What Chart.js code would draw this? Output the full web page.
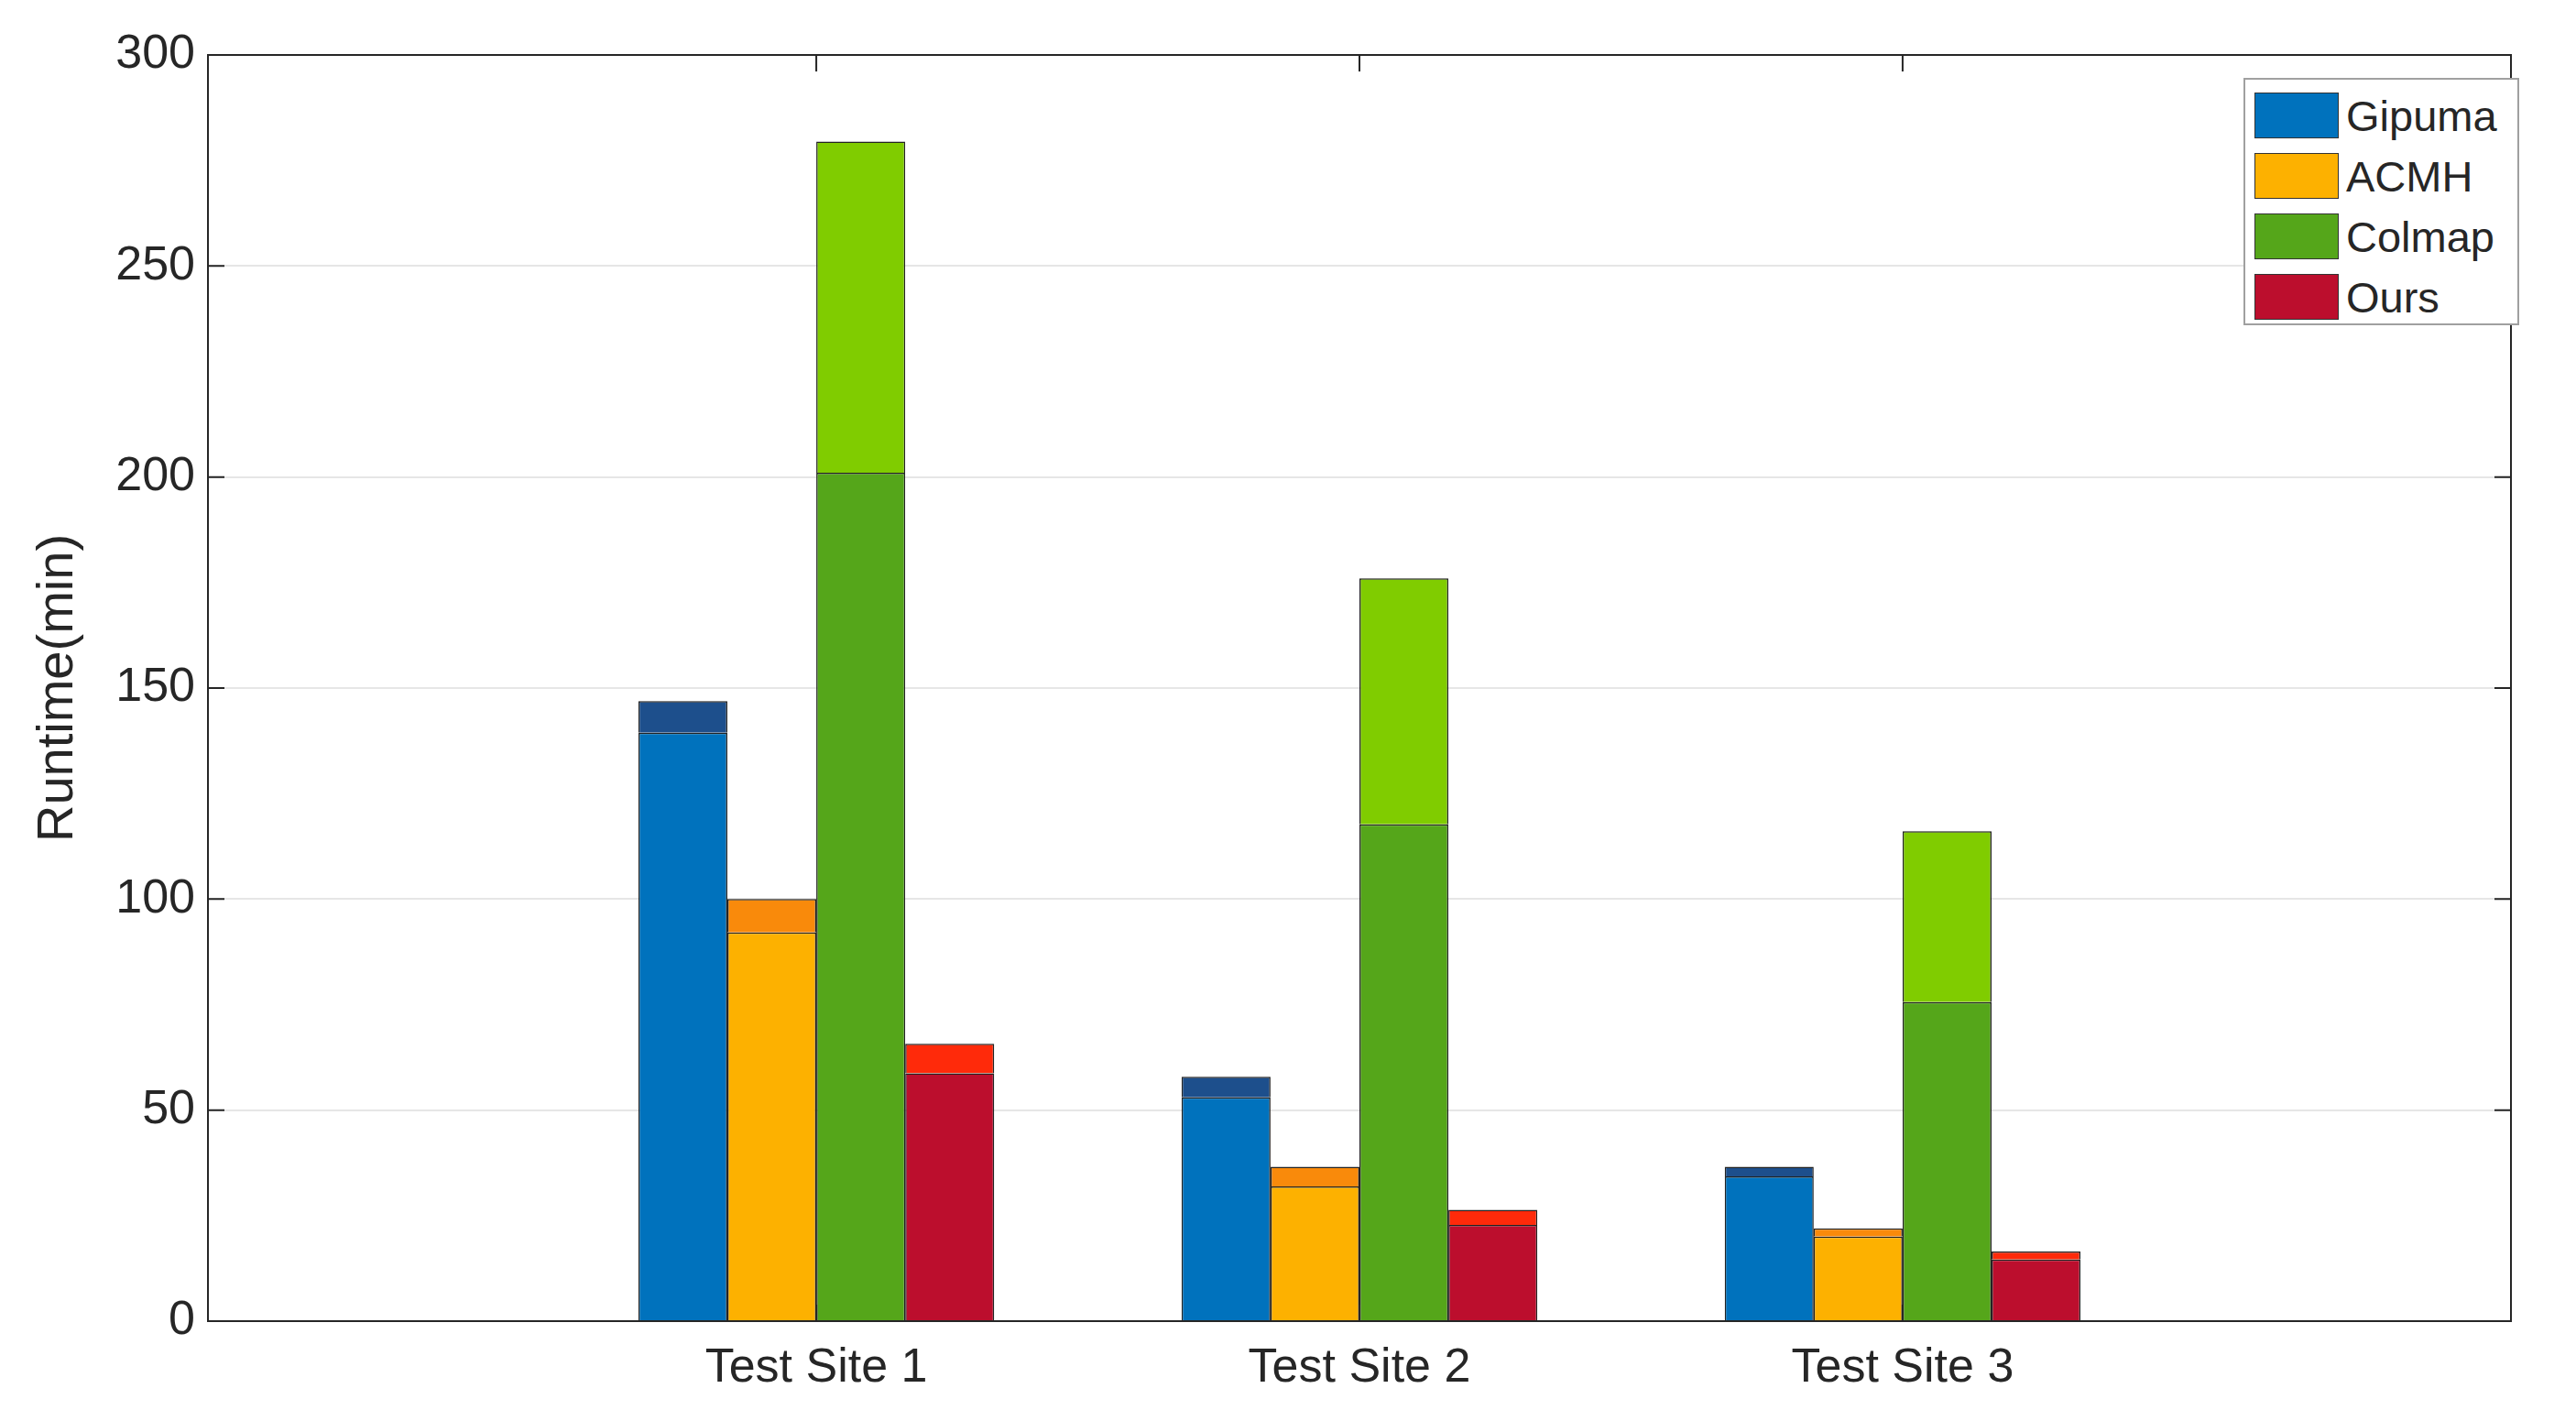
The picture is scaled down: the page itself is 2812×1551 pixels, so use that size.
<!DOCTYPE html>
<html><head><meta charset="utf-8">
<script src="https://cdn.jsdelivr.net/npm/chart.js@4"></script>
<style>
body{margin:0;background:#fff;}
#wrap{position:relative;width:2812px;height:1551px;}
#legend{position:absolute;left:2449px;top:85px;width:301px;height:270px;border:2px solid #a0a0a0;background:#fff;font-family:"Liberation Sans",Arial,sans-serif;font-size:47px;color:#262626;box-sizing:border-box;padding-top:6px;}
.it{display:flex;align-items:center;height:66px;}
.sw{width:92px;height:50px;margin:0 8px 0 10px;border:1px solid #333;box-sizing:border-box;}
</style></head><body>
<div id="wrap"><canvas id="c" width="2812" height="1551"></canvas>
<div id="legend"></div></div>
<script>
const categories = ['Test Site 1','Test Site 2','Test Site 3'];
const methods = ['Gipuma','ACMH','Colmap','Ours'];
const baseValues = {
  Gipuma:[139.4,53.0,34.3],
  ACMH:[92.1,31.9,20.0],
  Colmap:[201.0,117.7,75.6],
  Ours:[58.7,22.8,14.6]
};
const totalValues = {
  Gipuma:[146.9,57.9,36.6],
  ACMH:[100.0,36.6,22.0],
  Colmap:[279.5,176.0,116.1],
  Ours:[65.7,26.4,16.5]
};
const yTicks = [0,50,100,150,200,250,300];
const baseColors = {Gipuma:'#0072BD',ACMH:'#FDB100',Colmap:'#55A61A',Ours:'#BC0E2D'};
const topColors = {Gipuma:'#1D4F8C',ACMH:'#F98A0B',Colmap:'#80CC00',Ours:'#FF2A0A'};

const datasets = [];
methods.forEach(m=>{
  datasets.push({label:m,stack:m,data:categories.map((c,i)=>({x:i+1,y:baseValues[m][i]})),backgroundColor:baseColors[m],borderColor:'#222',borderWidth:1.5,barPercentage:1,categoryPercentage:0.655});
  datasets.push({label:m+' extra',stack:m,data:categories.map((c,i)=>({x:i+1,y:+(totalValues[m][i]-baseValues[m][i]).toFixed(2)})),backgroundColor:topColors[m],borderColor:'#222',borderWidth:1.5,barPercentage:1,categoryPercentage:0.655});
});

const lg=document.getElementById('legend');
methods.forEach(m=>{lg.innerHTML+=`<div class="it"><div class="sw" style="background:${baseColors[m]}"></div>${m}</div>`;});

const frame={id:'frame',afterDraw(ch){
  const a=ch.chartArea,ctx=ch.ctx;ctx.save();ctx.strokeStyle='#262626';ctx.lineWidth=2;
  ctx.strokeRect(a.left,a.top,a.right-a.left,a.bottom-a.top);
  const xs=ch.scales.x,ys=ch.scales.y;
  [1,2,3].forEach(v=>{const p=xs.getPixelForValue(v);ctx.beginPath();ctx.moveTo(p,a.bottom);ctx.lineTo(p,a.bottom-18);ctx.moveTo(p,a.top);ctx.lineTo(p,a.top+18);ctx.stroke();});
  yTicks.forEach(v=>{const p=ys.getPixelForValue(v);ctx.beginPath();ctx.moveTo(a.left,p);ctx.lineTo(a.left+18,p);ctx.moveTo(a.right,p);ctx.lineTo(a.right-18,p);ctx.stroke();});
  ctx.restore();}};

const font={family:'"Liberation Sans", Arial, sans-serif',size:52};
new Chart(document.getElementById('c'),{
  type:'bar',
  data:{datasets},
  options:{responsive:false,animation:false,devicePixelRatio:1,
    layout:{padding:{top:60,right:71}},
    plugins:{legend:{display:false},tooltip:{enabled:false}},
    scales:{
      x:{type:'linear',min:-0.12,max:4.12,offset:false,bounds:'ticks',
        afterBuildTicks(s){s.ticks=[1,2,3].map(v=>({value:v}));},
        afterFit(s){s.height=109;},
        ticks:{callback:(v)=>categories[v-1]||'',font,color:'#262626',padding:12,maxRotation:0},
        grid:{display:false},border:{display:false}},
      y:{stacked:true,min:0,max:300,
        afterBuildTicks(s){s.ticks=yTicks.map(v=>({value:v}));},
        afterFit(s){s.width=227;},
        ticks:{font,color:'#262626',padding:14},
        grid:{color:'#e6e6e6',lineWidth:2,drawTicks:false},border:{display:false},
        title:{display:true,text:'Runtime(min)',font:{family:font.family,size:56},color:'#262626',padding:{top:30,bottom:0}}}
    }},
  plugins:[frame]
});
</script></body></html>
